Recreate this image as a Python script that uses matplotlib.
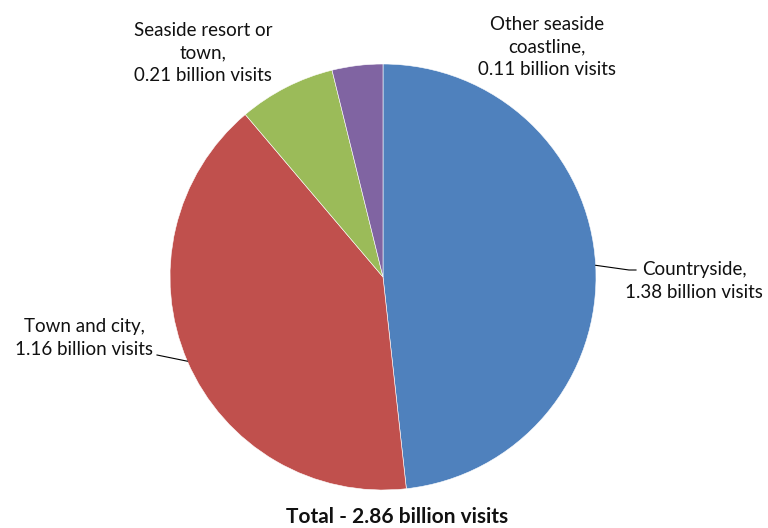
import numpy as np
import matplotlib.pyplot as plt

labels = ['Countryside', 'Town and city', 'Seaside resort or\ntown', 'Other seaside\ncoastline']
visits = [1.38, 1.16, 0.21, 0.11]
colors = ['#4F81BD', '#C0504D', '#9BBB59', '#8064A2']
total = 2.86

plt.rcParams['font.family'] = ['Lato', 'DejaVu Sans']

if __name__ == '__main__':
    fig = plt.figure(figsize=(7.68, 5.28), dpi=100)
    ax = fig.add_axes([0, 0, 1, 1])

    cx, cy, r = 383, 251, 213
    wedges, _ = ax.pie(visits, colors=colors, startangle=90, counterclock=False,
                       center=(cx, cy), radius=r, frame=True,
                       wedgeprops=dict(linewidth=0.4, edgecolor='white'))
    ax.set_xlim(0, 768)
    ax.set_ylim(0, 528)
    ax.set_aspect('equal')
    ax.axis('off')

    texts = [f'{l},\n{v:.2f} billion visits' for l, v in zip(labels, visits)]
    pos = [(694, 247), (84, 190), (203, 475), (547, 481)]
    for t, (x, y) in zip(texts, pos):
        ax.text(x, y, t, ha='center', va='center', fontsize=13.5,
                linespacing=1.4, color='#111111')

    # leader lines for the two big slices
    ends = [(636, 258), (157, 173)]
    for i, (ex, ey) in zip([0, 1], ends):
        w = wedges[i]
        mid = np.deg2rad((w.theta1 + w.theta2) / 2)
        px, py = cx + r*np.cos(mid), cy + r*np.sin(mid)
        if i == 0:
            ax.plot([px, ex - 7, ex], [py, ey, ey], color='black', lw=0.8)
        else:
            ax.plot([px, ex], [py, ey], color='black', lw=0.8)

    ax.text(397, 1, f'Total - {total:.2f} billion visits', ha='center', va='bottom',
            fontsize=15, fontweight='bold', color='#111111')

    fig.savefig('out.png', dpi=100)
